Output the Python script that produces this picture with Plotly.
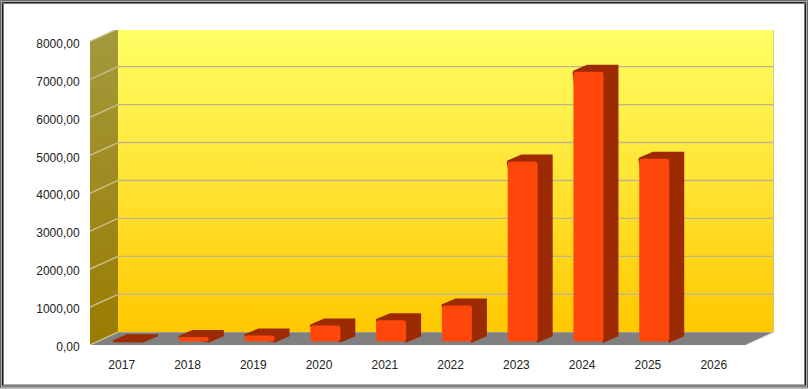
import plotly.graph_objects as go

years = ["2017", "2018", "2019", "2020", "2021", "2022", "2023", "2024", "2025", "2026"]
values = [5, 120, 160, 420, 560, 950, 4745, 7113, 4816, None]
y_ticks = [0, 1000, 2000, 3000, 4000, 5000, 6000, 7000, 8000]
y_labels = ["0,00", "1000,00", "2000,00", "3000,00", "4000,00", "5000,00", "6000,00", "7000,00", "8000,00"]

W, H = 808, 389
L, R, T, B = 90, 774, 30, 345.5
PX_X = 65.78  # pixels per category
PX_Y = 0.038  # pixels per unit
XMIN = -(121.7 - L) / PX_X
XFRONT = XMIN + 656 / PX_X
XMAX = XMIN + (R - L) / PX_X
WALL_DX = 28 / PX_X
WALL_DY = 12.8 / PX_Y
BAR_SHIFT_X = 6.3 / PX_X
BAR_BASE = 3.5 / PX_Y
BAR_W = 30 / PX_X
DEPTH_DX = 14 / PX_X
DEPTH_DY = 6 / PX_Y
YTOP = 8000 + WALL_DY
YMAX = (B - T) / PX_Y
GRID = "#BDB68E"
WALL_LINE = "#C9C08C"
FACE = "#FF470B"
DARK = "#9C2A02"

fig = go.Figure()


def poly(xs, ys, color=None, gradient=None, line=None, width=0):
    kw = dict(fillgradient=gradient) if gradient else dict(fillcolor=color)
    fig.add_trace(go.Scatter(x=xs, y=ys, mode="lines", fill="toself",
                             line=dict(color=line or "rgba(0,0,0,0)", width=width),
                             hoverinfo="skip", showlegend=False, **kw))


def seg(xs, ys, color, width=1.4):
    fig.add_trace(go.Scatter(x=xs, y=ys, mode="lines", line=dict(color=color, width=width),
                             hoverinfo="skip", showlegend=False))


# back wall
poly([XMIN + WALL_DX, XMAX, XMAX, XMIN + WALL_DX],
     [WALL_DY, WALL_DY, YTOP, YTOP],
     gradient=dict(type="vertical", colorscale=[[0, "#FFC800"], [1, "#FFFF66"]]))
# side wall
poly([XMIN, XMIN + WALL_DX, XMIN + WALL_DX, XMIN],
     [0, WALL_DY, YTOP, 8000],
     gradient=dict(type="vertical", colorscale=[[0, "#9A7B00"], [1, "#A39A3E"]]))
# floor
poly([XMIN, XFRONT, XMAX, XMIN + WALL_DX], [0, 0, WALL_DY, WALL_DY], color="#808080")

# grid
for t in y_ticks[1:]:
    seg([XMIN + WALL_DX, XMAX], [t + WALL_DY, t + WALL_DY], GRID)
    seg([XMIN, XMIN + WALL_DX], [t, t + WALL_DY], WALL_LINE)
seg([XMAX, XMAX], [WALL_DY, YTOP], WALL_LINE, 1.5)
seg([XFRONT, XMAX], [0, WALL_DY], "#E4E4DC", 1)
seg([XMIN, XMIN + WALL_DX], [0, WALL_DY], WALL_LINE, 1.4)

# bar depth (top and side)
for i, v in enumerate(values):
    if v is None:
        continue
    x0 = i + BAR_SHIFT_X - BAR_W / 2
    x1 = i + BAR_SHIFT_X + BAR_W / 2
    yb = BAR_BASE
    yt = BAR_BASE + v
    poly([x0, x1, x1 + DEPTH_DX, x1 + DEPTH_DX, x0 + DEPTH_DX, x0],
         [yt, yb, yb + DEPTH_DY, yt + DEPTH_DY, yt + DEPTH_DY, yt],
         color=DARK, line=DARK, width=2)

# front faces
fig.add_trace(go.Bar(x=list(range(len(years))), y=[None if v is None or v < 20 else v for v in values],
                     base=BAR_BASE, width=BAR_W, offset=BAR_SHIFT_X - BAR_W / 2,
                     marker=dict(color=FACE, cornerradius=3, line=dict(width=0)),
                     xaxis="x2", yaxis="y2", showlegend=False,
                     customdata=years, hovertemplate="%{customdata}: %{y}<extra></extra>"))

# frame in paper coordinates


def px(x):
    return (x - L) / (R - L)


def py(y):
    return (B - y) / (B - T)


for a, color, w in [(0.5, "#666666", 1), (1.5, "#AAAAAA", 1), (2.5, "#222222", 1), (3.5, "#777777", 1)]:
    fig.add_shape(type="rect", xref="paper", yref="paper", layer="above",
                  x0=px(a), x1=px(W - a), y0=py(H - a), y1=py(a),
                  line=dict(color=color, width=w), fillcolor="rgba(0,0,0,0)")

font = dict(family="Liberation Sans, Arial, sans-serif", size=12, color="#222222")
fig.update_layout(
    width=W, height=H, margin=dict(l=L, r=W - R, t=T, b=H - B),
    paper_bgcolor="white", plot_bgcolor="white", showlegend=False, font=font,
    xaxis=dict(range=[XMIN, XMAX], tickmode="array", tickvals=list(range(len(years))), ticktext=years,
               showgrid=False, zeroline=False, showline=False, ticks="outside", ticklen=9,
               tickcolor="rgba(0,0,0,0)", tickfont=font),
    yaxis=dict(range=[0, YMAX], tickmode="array", tickvals=y_ticks, ticktext=y_labels,
               showgrid=False, zeroline=False, showline=False, ticks="outside", ticklen=7,
               tickcolor="rgba(0,0,0,0)", tickfont=font, ticklabelshift=2),
    xaxis2=dict(range=[XMIN, XMAX], overlaying="x", visible=False, matches="x"),
    yaxis2=dict(range=[0, YMAX], overlaying="y", visible=False, matches="y"),
)

fig.write_html("out.html", config=dict(displayModeBar=False),
               post_script="document.body.style.margin='0';document.body.style.overflow='hidden';")
